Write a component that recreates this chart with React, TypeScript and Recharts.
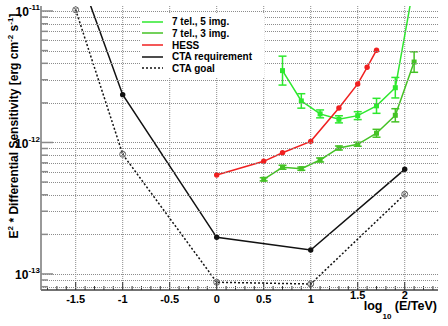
import React from "react";
import { LineChart, Line, XAxis, YAxis, CartesianGrid, ErrorBar, Legend } from "recharts";

const FONT = '"Liberation Sans", Arial, Helvetica, sans-serif';

// x = log10(E/TeV), y = E^2 * differential sensitivity [erg cm^-2 s^-1]
const X_REQ = [-1.5, -1, 0, 1, 2];
const CTA_REQ = [2.26e-11, 2.31e-12, 1.9e-13, 1.52e-13, 6.25e-13];
const X_GOAL = [-1.5, -1, 0, 1, 2];
const CTA_GOAL = [1.02e-11, 8.13e-13, 8.65e-14, 8.39e-14, 4.04e-13];
const X_HESS = [0, 0.5, 0.7, 1.0, 1.3, 1.5, 1.6, 1.7];
const HESS = [5.66e-13, 7.19e-13, 8.36e-13, 1.02e-12, 1.83e-12, 2.79e-12, 3.73e-12, 5.03e-12];
const X_5IMG = [0.7, 0.9, 1.1, 1.3, 1.5, 1.7, 1.9, 2.1];
const TEL7_5IMG = [3.52e-12, 2.07e-12, 1.65e-12, 1.5e-12, 1.6e-12, 1.9e-12, 2.61e-12, 1.63e-11];
const ERR_5IMG = [0.11, 0.055, 0.03, 0.027, 0.03, 0.057, 0.078, 0]; // half width in dex
const X_3IMG = [0.5, 0.7, 0.9, 1.1, 1.3, 1.5, 1.7, 1.9, 2.1];
const TEL7_3IMG = [5.25e-13, 6.48e-13, 6.32e-13, 7.36e-13, 9.08e-13, 9.69e-13, 1.175e-12, 1.61e-12, 4.09e-12];
const ERR_3IMG = [0.012, 0.015, 0.012, 0.015, 0.015, 0.015, 0.03, 0.05, 0.078];

const MAJOR_X = [-1.5, -1, -0.5, 0, 0.5, 1, 1.5, 2];
const X_LABELS = ["-1.5", "-1", "-0.5", "0", "0.5", "1", "1.5", "2"];
const RAISED = ["1.5", "2"];

const X_DOMAIN = [-1.869, 2.354];
const Y_DOMAIN = [Math.pow(10, -13.122), Math.pow(10, -10.962)];
const PLOT_W = 397;

const X_TICKS: number[] = [];
for (let i = -18; i <= 23; i++) X_TICKS.push(i / 10);

const Y_TICKS: number[] = [];
for (let d = -14; d <= -11; d++) {
  for (let m = 1; m <= 9; m++) {
    const v = m * Math.pow(10, d);
    if (v >= Y_DOMAIN[0] && v <= Y_DOMAIN[1]) Y_TICKS.push(v);
  }
}

const C5 = "#2ee82e";
const C3 = "#45c225";
const CRED = "#f02020";
const CBLK = "#111";
const GRID = "#8c8c8c";

const SERIES = [
  { name: "7 tel., 5 img.", color: C5, dash: undefined },
  { name: "7 tel., 3 img.", color: C3, dash: undefined },
  { name: "HESS", color: CRED, dash: undefined },
  { name: "CTA requirement", color: CBLK, dash: undefined },
  { name: "CTA goal", color: CBLK, dash: "2 2" },
];

const toRows = (xs: number[], ys: number[], errs?: number[]) =>
  xs.map((x, i) => {
    const y = ys[i];
    const row: any = { x, y };
    if (errs) row.err = [y - y * Math.pow(10, -errs[i]), y * Math.pow(10, errs[i]) - y];
    return row;
  });

const reqData = toRows(X_REQ, CTA_REQ);
const goalData = toRows(X_GOAL, CTA_GOAL);
const hessData = toRows(X_HESS, HESS);
const data5 = toRows(X_5IMG, TEL7_5IMG, ERR_5IMG);
const data3 = toRows(X_3IMG, TEL7_3IMG, ERR_3IMG);

const square = (color: string) => (p: any) =>
  <rect key={`s-${p.index}`} x={p.cx - 2.5} y={p.cy - 2.5} width={5} height={5} fill={color} />;
const circle = (color: string) => (p: any) =>
  <circle key={`c-${p.index}`} cx={p.cx} cy={p.cy} r={2.7} fill={color} />;
const openCross = (p: any) => (
  <g key={`o-${p.index}`} stroke="#555" strokeWidth={0.9} fill="none">
    <circle cx={p.cx} cy={p.cy} r={3} />
    <line x1={p.cx - 2} y1={p.cy - 2} x2={p.cx + 2} y2={p.cy + 2} />
    <line x1={p.cx - 2} y1={p.cy + 2} x2={p.cx + 2} y2={p.cy - 2} />
  </g>
);

const XTick = (props: any) => {
  const { x, y, payload } = props;
  const v = payload.value;
  const idx = MAJOR_X.findIndex((m) => Math.abs(m - v) < 1e-6);
  const major = idx >= 0;
  const label = major ? X_LABELS[idx] : "";
  return (
    <g>
      <line x1={x} x2={x} y1={y} y2={y - (major ? 8 : 4)} stroke="#333" strokeWidth={1} />
      {major && (
        <text x={x} y={y + (RAISED.includes(label) ? 9 : 13)} textAnchor="middle"
          fontFamily={FONT} fontWeight="bold" fontSize={11} fill="#000">{label}</text>
      )}
    </g>
  );
};

// y ticks also carry the dotted horizontal grid line at every log tick
const YTick = (props: any) => {
  const { x, y, payload } = props;
  const v = payload.value;
  const exp = Math.round(Math.log10(v));
  const major = Math.abs(v / Math.pow(10, exp) - 1) < 1e-6;
  const gy = Math.round(y) + 0.5;
  return (
    <g>
      <path d={`M${x},${gy}H${x + PLOT_W}`} stroke={GRID} strokeWidth={1} strokeDasharray="1 1" fill="none" />
      <line x1={x} x2={x + (major ? 12 : 7)} y1={y} y2={y} stroke="#8a8a8a" strokeWidth={1.5} />
      {major && (
        <text x={x - 1} y={y + 5.5} textAnchor="end" fontFamily={FONT} fontWeight="bold" fontSize={12} fill="#000">
          10<tspan dy={-6} fontSize={8}>{`-${Math.abs(exp)}`}</tspan>
        </text>
      )}
    </g>
  );
};

const YTitle = () => (
  <text transform="translate(17.5,126) rotate(-90)" textAnchor="middle" fontFamily={FONT}
    fontWeight="bold" fontSize={12} fill="#000">
    E<tspan dy={-5} fontSize={8}>2</tspan>
    <tspan dy={5}> * Differential Sensitivity [erg cm</tspan>
    <tspan dy={-5} fontSize={8}>-2</tspan>
    <tspan dy={5}> s</tspan>
    <tspan dy={-5} fontSize={8}>-1</tspan>
    <tspan dy={5}>]</tspan>
  </text>
);

const XTitle = () => (
  <text x={437} y={310} textAnchor="end" fontFamily={FONT} fontWeight="bold" fontSize={12.5} fill="#000">
    log<tspan dy={9} fontSize={8}>10</tspan>
    <tspan dy={-9}> (E/TeV)</tspan>
  </text>
);

const LegendBox = () => (
  <div style={{ fontFamily: FONT, fontWeight: "bold", fontSize: 10, paddingTop: 2, color: "#000" }}>
    {SERIES.map((s) => (
      <div key={s.name} style={{ display: "flex", alignItems: "center", height: 11.65 }}>
        <svg width={21} height={6} style={{ marginLeft: 2, marginRight: 9 }}>
          <line x1={0} x2={21} y1={3} y2={3} stroke={s.color} strokeWidth={1.5} strokeDasharray={s.dash} />
        </svg>
        <span>{s.name}</span>
      </div>
    ))}
  </div>
);

export default function App() {
  return (
    <div style={{ position: "absolute", left: 0, top: 0, width: 448, height: 326, background: "#fff" }}>
      <LineChart width={448} height={326} margin={{ top: 6, right: 10, bottom: 0, left: 0 }}>
        <CartesianGrid stroke={GRID} strokeDasharray="1 1" horizontal={false} verticalValues={MAJOR_X} />
        <XAxis dataKey="x" type="number" domain={X_DOMAIN} allowDataOverflow ticks={X_TICKS} interval={0}
          height={36} tickSize={0} tickMargin={0} tickLine={false} tick={<XTick />}
          axisLine={{ stroke: "#444", strokeWidth: 1.5 }} label={<XTitle />} />
        <YAxis type="number" scale="log" domain={Y_DOMAIN} allowDataOverflow ticks={Y_TICKS} interval={0}
          width={41} tickSize={0} tickMargin={0} tickLine={false} tick={<YTick />}
          axisLine={{ stroke: "#777", strokeWidth: 1.5 }} label={<YTitle />} />
        <XAxis xAxisId="top" orientation="top" type="number" domain={X_DOMAIN} height={0}
          tick={false} tickLine={false} axisLine={{ stroke: "#777", strokeWidth: 1.5 }} />
        <YAxis yAxisId="right" orientation="right" type="number" width={0}
          tick={false} tickLine={false} axisLine={{ stroke: "#777", strokeWidth: 1.5 }} />
        <Legend layout="vertical" align="center" verticalAlign="middle" content={<LegendBox />}
          wrapperStyle={{ position: "absolute", left: 140, top: 14, width: 124, height: 64, background: "#fff" }} />
        <Line data={data5} dataKey="y" name="7 tel., 5 img." stroke={C5} strokeWidth={1.5}
          dot={square(C5)} activeDot={false} isAnimationActive={false}>
          <ErrorBar dataKey="err" direction="y" width={4} stroke={C5} strokeWidth={1.5} isAnimationActive={false} />
        </Line>
        <Line data={data3} dataKey="y" name="7 tel., 3 img." stroke={C3} strokeWidth={1.5}
          dot={square(C3)} activeDot={false} isAnimationActive={false}>
          <ErrorBar dataKey="err" direction="y" width={4} stroke={C3} strokeWidth={1.5} isAnimationActive={false} />
        </Line>
        <Line data={hessData} dataKey="y" name="HESS" stroke={CRED} strokeWidth={1.5}
          dot={circle(CRED)} activeDot={false} isAnimationActive={false} />
        <Line data={reqData} dataKey="y" name="CTA requirement" stroke={CBLK} strokeWidth={1.5}
          dot={circle(CBLK)} activeDot={false} isAnimationActive={false} />
        <Line data={goalData} dataKey="y" name="CTA goal" stroke={CBLK} strokeWidth={1.5} strokeDasharray="2 2"
          dot={openCross} activeDot={false} isAnimationActive={false} />
      </LineChart>
    </div>
  );
}
